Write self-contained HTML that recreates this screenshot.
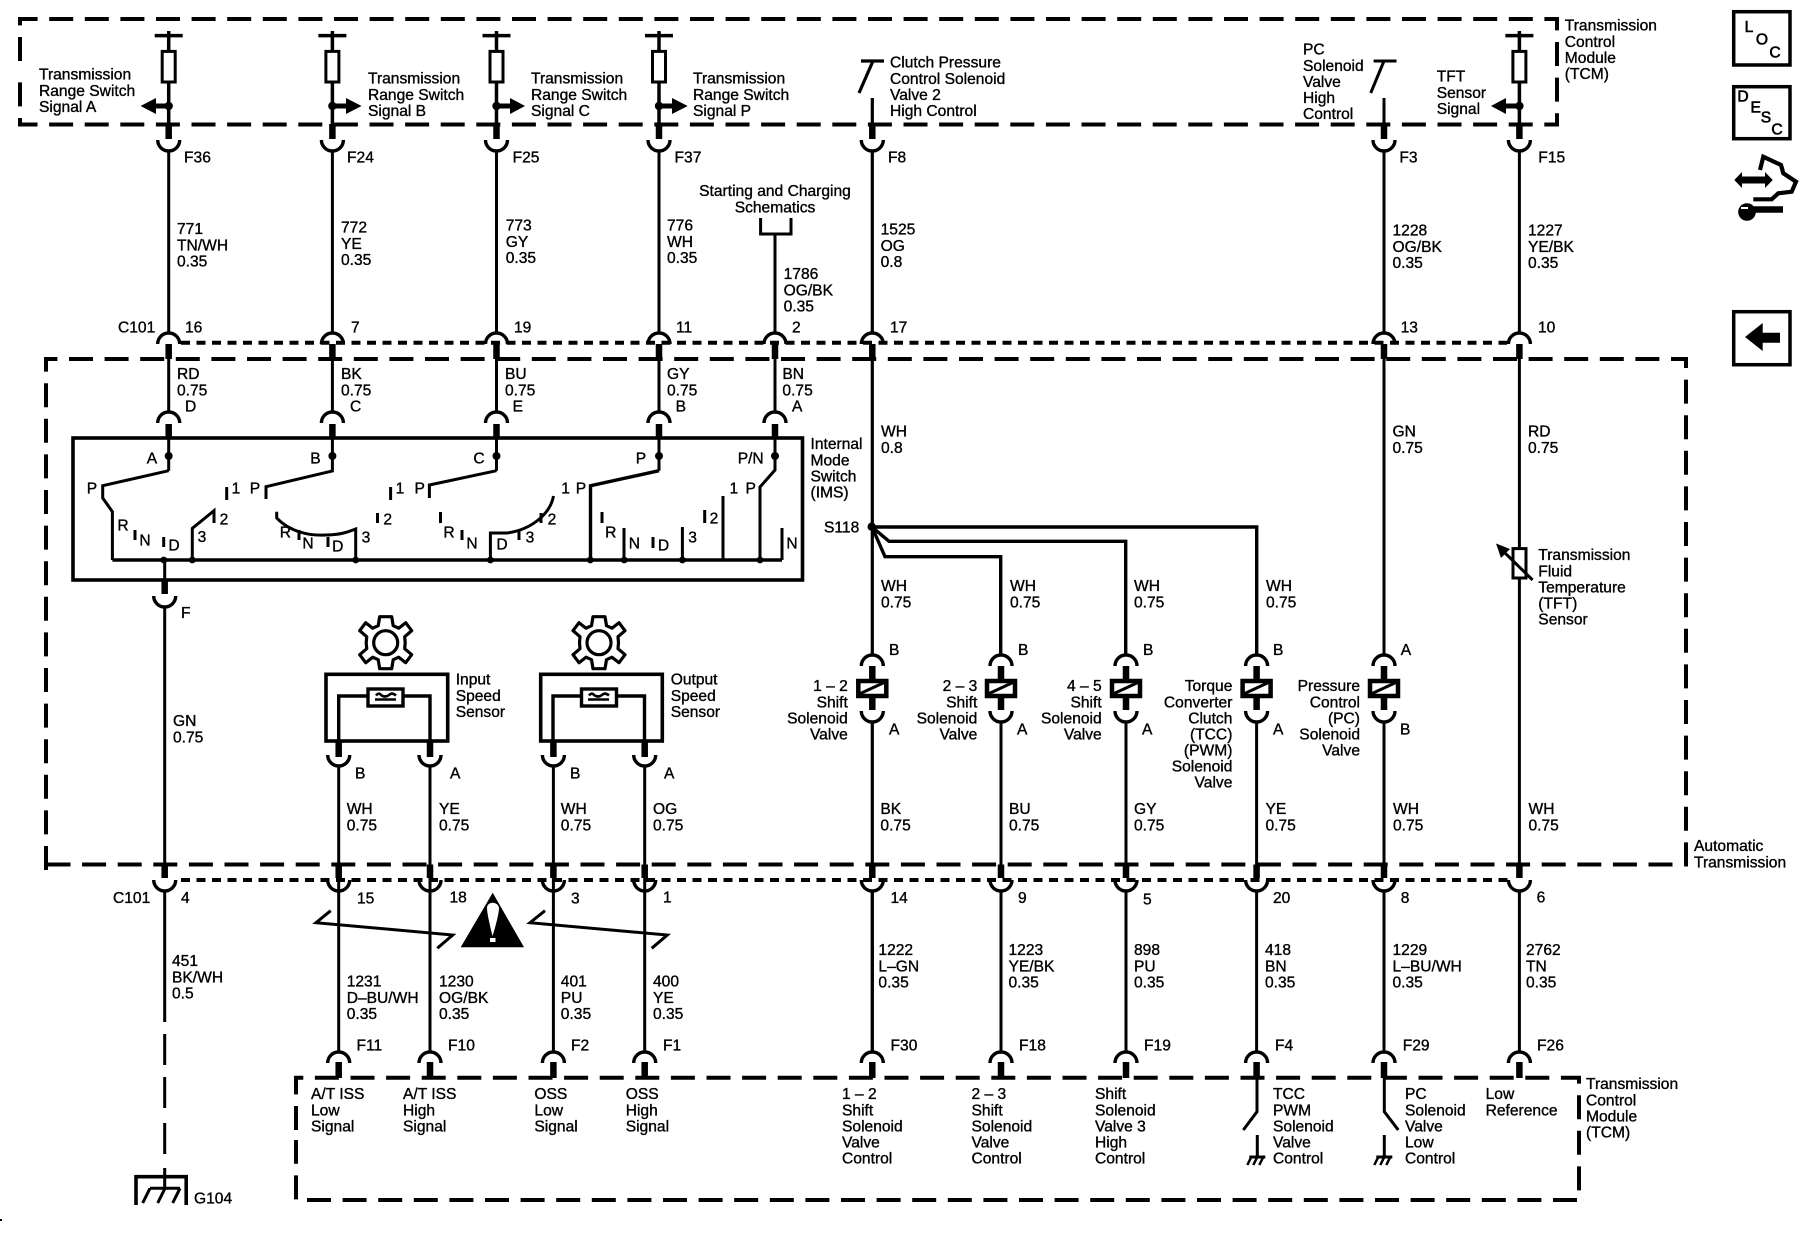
<!DOCTYPE html>
<html><head><meta charset="utf-8"><title>Transmission wiring diagram</title>
<style>
html,body{margin:0;padding:0;background:#fff}
svg{display:block}
text{font-family:"Liberation Sans",sans-serif;font-size:15.6px;fill:#000;stroke:#000;stroke-width:.35;dominant-baseline:central;transform:translateY(.8px)}
.r{text-anchor:end}
.m{text-anchor:middle}
.i{stroke-width:.6}
.w{fill:none;stroke:#000;stroke-width:3}
.a{fill:none;stroke:#000;stroke-width:3.4}
.t{fill:none;stroke:#000;stroke-width:6.5}
.d{fill:none;stroke:#000;stroke-width:4;stroke-dasharray:24 11.6}
.o{fill:none;stroke:#000;stroke-width:4;stroke-dasharray:9 6.5}
.b{fill:none;stroke:#000;stroke-width:4}
</style></head><body>
<svg width="1800" height="1248" viewBox="0 0 1800 1248" xmlns="http://www.w3.org/2000/svg">
<defs>
<g id="U"><path class="a" d="M-11 0A11 11 0 0 0 11 0"/></g>
<g id="N"><path class="a" d="M-11 0A11 11 0 0 1 11 0"/></g>
<g id="colTop">
<path class="w" d="M-14 35.6H14M0 31V51M0 82V124" style="stroke-width:3.5"/>
<rect x="-6.5" y="51.4" width="13" height="30.6" fill="#fff" stroke="#000" stroke-width="3"/>
<circle cx="0" cy="106" r="4.2"/>
</g>
<g id="col">
<use href="#colTop"/>
<path class="t" d="M0 124V139M0 344V359M0 424V438"/>
<use href="#U" y="140"/>
<path class="w" d="M0 151V333M0 359V412M0 438V470.7"/>
<use href="#N" y="344"/><use href="#N" y="423"/>
<circle cx="0" cy="456" r="4"/>
</g>
<g id="sol">
<path class="t" d="M0 666V710"/>
<rect x="-14" y="681" width="28" height="15" fill="#fff" stroke="#000" stroke-width="4.5"/>
<path class="w" d="M-13 694L13 682"/>
<use href="#N" y="666"/><use href="#U" y="711"/>
</g>
<g id="bot">
<path class="t" d="M0 864.5V878M0 1062V1078"/>
<use href="#U" y="880"/><use href="#N" y="1063"/>
<path class="w" d="M0 891V1052"/>
</g>
<g id="sgnd">
<path class="w" d="M0 1135V1157M-8 1157H8"/>
<path class="w" d="M-6 1157L-10 1165M0 1157L-4 1165M6 1157L2 1165" style="stroke-width:2.5"/>
</g>
<path id="gear" d="M-6 -26L6 -26L7.5 -17L13 -14.5L20 -20L26 -12L19 -6L19.5 0L19 6L26 12L20 20L13 14.5L7.5 17L6 26L-6 26L-7.5 17L-13 14.5L-20 20L-26 12L-19 6L-19.5 0L-19 -6L-26 -12L-20 -20L-13 -14.5L-7.5 -17Z" fill="#fff" stroke="#000" stroke-width="3.2" stroke-linejoin="round"/>
</defs>
<rect width="1800" height="1248" fill="#fff"/>

<!-- dashed boxes -->
<path class="d" d="M20 61V19H1557V124.5H20V78"/>
<path class="d" d="M46 870V359H1686V864.5H46"/>
<path class="d" d="M296 1130V1077.7H1579V1200H296V1140"/>
<path class="o" d="M181 342.7H1507"/>
<path class="o" d="M181 880H1508"/>

<!-- top columns -->
<use href="#col" x="168.7"/><use href="#col" x="332.4"/><use href="#col" x="496.5"/><use href="#col" x="659"/>
<polygon points="140.6,106 156,98 156,103.5 168,103.5 168,108.5 156,108.5 156,114"/>
<polygon points="361.6,106 346,98 346,103.5 333,103.5 333,108.5 346,108.5 346,114"/>
<polygon points="525,106 510,98 510,103.5 497,103.5 497,108.5 510,108.5 510,114"/>
<polygon points="687.7,106 672,98 672,103.5 660,103.5 660,108.5 672,108.5 672,114"/>

<!-- col 775 -->
<path class="w" d="M760.6 218V234H791V218M775 234V333M775 359V412M775 438V470L760 487V560"/>
<path class="t" d="M775 344V359M775 424V438"/>
<use href="#N" x="775" y="344"/><use href="#N" x="775" y="423"/>
<circle cx="775" cy="456" r="4"/>

<!-- col 872 -->
<path class="w" d="M861 61H884M873 61L859 93M872.3 98V124M872.3 151V333M872.3 359V655M872.3 722V864.5M872.3 891V1052" style="stroke-width:3.2"/>
<path class="t" d="M872.3 124V139M872.3 344V359"/>
<use href="#U" x="872.3" y="140"/><use href="#N" x="872.3" y="344"/>
<circle cx="871.7" cy="526.7" r="4.2"/>
<path class="b" d="M872 527H1256.7V655M872 527L889 541.3H1125.7V655M872 527L885 556.7H1000.7V655" style="stroke-width:3.4"/>

<!-- col 1384 -->
<path class="w" d="M1373.6 61H1396.5M1384 61L1370.7 93M1384 98V124M1384 151V333M1384 359V655M1384 722V864.5"/>
<path class="t" d="M1384 124V139M1384 344V359"/>
<use href="#U" x="1384" y="140"/><use href="#N" x="1384" y="344"/>

<!-- col 1519 -->
<use href="#colTop" x="1519.4"/>
<polygon points="1491,106 1506,98 1506,103.5 1519,103.5 1519,108.5 1506,108.5 1506,114"/>
<path class="t" d="M1519.4 124V139M1519.4 344V359"/>
<use href="#U" x="1519.4" y="140"/><use href="#N" x="1519.4" y="344"/>
<path class="w" d="M1519.4 151V333M1519.4 359V864.5"/>
<rect x="1513" y="548.6" width="13" height="29.4" fill="#fff" stroke="#000" stroke-width="3"/>
<path class="w" d="M1532.6 580L1502 550"/>
<polygon points="1496,543.5 1510,549 1501,558"/>

<!-- internal mode switch -->
<rect x="73" y="438" width="729.5" height="142" fill="none" stroke="#000" stroke-width="3.6"/>
<path class="b" d="M112.4 560H782" style="stroke-width:3.6"/>
<path class="w" d="M168.7 470.7L102.7 485.7V498L112.4 511.7V560"/>
<path class="w" d="M192.3 560V528.3L214 510.7V523M332.4 470.7V471L266 486.7V499M276.7 511.7V518C290 532 310 536 325.6 535C340 535 348 532 355.7 529V560"/>
<path class="w" d="M496.5 470.7L429.4 485V498M490.4 560V533H507C530 530 550 515 553.5 496"/>
<path class="b" d="M659 470.7L590.5 485.7V560" style="stroke-width:3.4"/>
<path class="w" d="M624 528V560M682.4 527V560M723 496V560M782 528V560"/>
<path class="w" d="M135 530V540M163.7 537V547M226.7 487V500M299 530V540M328 537V547M377.5 513V523M390.6 487V500M440.5 512V523M462 530V540M519 530V540M541 513V523M602 512V523M653 537V548M704.7 510V523"/>
<g>
<circle cx="163.7" cy="560" r="3.4"/><circle cx="192.3" cy="560" r="3.4"/><circle cx="355.7" cy="560" r="3.4"/><circle cx="490.4" cy="560" r="3.4"/><circle cx="590.3" cy="560" r="3.4"/><circle cx="624.2" cy="560" r="3.4"/><circle cx="682.4" cy="560" r="3.4"/><circle cx="760" cy="560" r="3.4"/>
</g>
<path class="w" d="M164.7 560V580M164.7 607V864.5"/>
<path class="t" d="M164.7 580V594"/>
<use href="#U" x="164.7" y="596"/>

<!-- speed sensors -->
<use href="#gear" x="385.7" y="642.7"/><circle cx="385.7" cy="642.7" r="12" fill="none" stroke="#000" stroke-width="3.2"/>
<use href="#gear" x="599" y="642.7"/><circle cx="599" cy="642.7" r="12" fill="none" stroke="#000" stroke-width="3.2"/>
<rect x="326" y="674.3" width="121.7" height="66.7" fill="none" stroke="#000" stroke-width="3.6"/>
<rect x="540.7" y="674.3" width="121.6" height="66.7" fill="none" stroke="#000" stroke-width="3.6"/>
<path class="b" d="M338.7 741V696H430V741M553 741V696H644.5V741" style="stroke-width:3.4"/>
<rect x="368" y="689" width="35" height="17" fill="#fff" stroke="#000" stroke-width="3.4"/>
<rect x="581.5" y="689" width="35" height="17" fill="#fff" stroke="#000" stroke-width="3.4"/>
<path class="w" d="M376 695.5Q379 692 381 695Q385 698 389 695Q392 692 396 695.5M375 699.5H396M589 695.5Q592 692 594 695Q598 698 602 695Q605 692 609 695.5M588 699.5H609" style="stroke-width:2.6"/>
<path class="t" d="M338.7 741V757M430 741V757M553.4 741V757M644.7 741V757"/>
<use href="#U" x="338.7" y="755"/><use href="#U" x="430" y="755"/><use href="#U" x="553.4" y="755"/><use href="#U" x="644.7" y="755"/>
<path class="w" d="M338.7 766V1052M430 766V1052M553.4 766V1052M644.7 766V1052"/>
<path class="t" d="M338.7 864.5V878M430 864.5V878M553.4 864.5V878M644.7 864.5V878M164.7 864.5V878M338.7 1062V1078M430 1062V1078M553.4 1062V1078M644.7 1062V1078"/>
<g fill="#fff">
<use href="#U" x="164.7" y="880"/><use href="#U" x="338.7" y="880"/><use href="#U" x="430" y="880"/><use href="#U" x="553.4" y="880"/><use href="#U" x="644.7" y="880"/>
<use href="#N" x="338.7" y="1063"/><use href="#N" x="430" y="1063"/><use href="#N" x="553.4" y="1063"/><use href="#N" x="644.7" y="1063"/>
</g>
<!-- twisted pair and warning -->
<path class="w" d="M330.7 910.7L316 922.7L452.7 935L437.3 948.3M545 910.7L530 922.7L667.3 935L651.7 948.3"/>
<polygon points="492.7,892.7 524,947.3 460.7,947.3"/>
<path d="M487 908C487 901 498 901 499 908C499 914 494.5 930 492.5 936C491 930 487 914 487 908Z" fill="#fff"/>
<rect x="490" y="938" width="5.5" height="4" fill="#fff"/>

<!-- ground lower -->
<path class="w" d="M164.7 891V1022M164.7 1034V1065M164.7 1077V1108M164.7 1123V1154M164.7 1168V1188"/>
<path class="b" d="M136 1205V1176.7H186.2V1205" style="stroke-width:3.6"/>
<path class="w" d="M150 1188.3H180M150 1188.3L142.7 1203M165 1188.3L157.7 1203M180 1188.3L172.7 1203"/>

<!-- solenoids -->
<use href="#sol" x="872.3"/><use href="#sol" x="1001"/><use href="#sol" x="1126"/><use href="#sol" x="1256.6"/><use href="#sol" x="1384"/>
<use href="#bot" x="872.3"/><use href="#bot" x="1001"/><use href="#bot" x="1126"/><use href="#bot" x="1519.4"/>
<path class="w" d="M1001 722V864.5M1126 722V864.5M1256.6 722V864.5"/>
<use href="#bot" x="1256.6"/><use href="#bot" x="1384"/>
<path class="w" d="M1257 1078V1111.7L1243.3 1130M1384.3 1078V1111.7L1398.3 1130"/>
<use href="#sgnd" x="1257.3"/><use href="#sgnd" x="1384.3"/>

<!-- side icons -->
<rect x="1733.7" y="11.7" width="56.3" height="53.3" fill="none" stroke="#000" stroke-width="3.5"/>
<rect x="1733.7" y="86.7" width="56.3" height="52" fill="none" stroke="#000" stroke-width="3.5"/>
<rect x="1733.7" y="311.7" width="56.3" height="53" fill="none" stroke="#000" stroke-width="3.5"/>
<polygon points="1745,337 1762.7,323 1762.7,332.7 1780,332.7 1780,342.7 1762.7,342.7 1762.7,351"/>
<text x="1749" y="26.7" class="m i">L</text><text x="1762" y="39" class="m i">O</text><text x="1775" y="52" class="m i">C</text>
<text x="1743" y="96" class="m i">D</text><text x="1755.7" y="107" class="m i">E</text><text x="1766" y="117" class="m i">S</text><text x="1777" y="129" class="m i">C</text>
<polygon points="1734.3,180 1742,172 1742,176.5 1765,176.5 1765,172 1772.7,180 1765,188 1765,183.5 1742,183.5 1742,188"/>
<path class="w" d="M1760 170L1763.3 156.7L1781 165L1783.3 173.3L1796 181.7L1791.7 191.7L1778.3 193.3L1771.7 199.3L1753.3 199.3" style="stroke-width:4.2"/>
<circle cx="1747" cy="212" r="8.8"/><path class="t" d="M1746 209.5H1783"/>
<rect x="1741" y="207" width="7" height="2" fill="#fff"/>

<rect x="0" y="1219" width="2" height="2"/>

<!-- labels -->
<text x="39" y="74">Transmission<tspan x="39" dy="16">Range Switch</tspan><tspan x="39" dy="16">Signal A</tspan></text>
<text x="368" y="78">Transmission<tspan x="368" dy="16">Range Switch</tspan><tspan x="368" dy="16">Signal B</tspan></text>
<text x="531" y="78">Transmission<tspan x="531" dy="16">Range Switch</tspan><tspan x="531" dy="16">Signal C</tspan></text>
<text x="693" y="78">Transmission<tspan x="693" dy="16">Range Switch</tspan><tspan x="693" dy="16">Signal P</tspan></text>
<text x="890" y="62">Clutch Pressure<tspan x="890" dy="16">Control Solenoid</tspan><tspan x="890" dy="16">Valve 2</tspan><tspan x="890" dy="16">High Control</tspan></text>
<text x="1303" y="49.4">PC<tspan x="1303" dy="16">Solenoid</tspan><tspan x="1303" dy="16">Valve</tspan><tspan x="1303" dy="16">High</tspan><tspan x="1303" dy="16">Control</tspan></text>
<text x="1436.7" y="76">TFT<tspan x="1436.7" dy="16">Sensor</tspan><tspan x="1436.7" dy="16">Signal</tspan></text>
<text x="1564.8" y="25">Transmission<tspan x="1564.8" dy="16">Control</tspan><tspan x="1564.8" dy="16">Module</tspan><tspan x="1564.8" dy="16">(TCM)</tspan></text>

<text x="184" y="157">F36</text><text x="347" y="157">F24</text><text x="512.6" y="157">F25</text><text x="674.5" y="157">F37</text><text x="888" y="157">F8</text><text x="1399.4" y="157">F3</text><text x="1538.3" y="157">F15</text>
<text x="775" y="190.5" class="m">Starting and Charging<tspan x="775" dy="16">Schematics</tspan></text>

<text x="177" y="228.5">771<tspan x="177" dy="16">TN/WH</tspan><tspan x="177" dy="16">0.35</tspan></text>
<text x="341" y="227">772<tspan x="341" dy="16">YE</tspan><tspan x="341" dy="16">0.35</tspan></text>
<text x="505.7" y="225">773<tspan x="505.7" dy="16">GY</tspan><tspan x="505.7" dy="16">0.35</tspan></text>
<text x="667" y="225">776<tspan x="667" dy="16">WH</tspan><tspan x="667" dy="16">0.35</tspan></text>
<text x="783.6" y="273.5">1786<tspan x="783.6" dy="16">OG/BK</tspan><tspan x="783.6" dy="16">0.35</tspan></text>
<text x="880.6" y="229">1525<tspan x="880.6" dy="16">OG</tspan><tspan x="880.6" dy="16">0.8</tspan></text>
<text x="1392.5" y="230">1228<tspan x="1392.5" dy="16">OG/BK</tspan><tspan x="1392.5" dy="16">0.35</tspan></text>
<text x="1528" y="230">1227<tspan x="1528" dy="16">YE/BK</tspan><tspan x="1528" dy="16">0.35</tspan></text>

<text x="118" y="327">C101</text><text x="185" y="327">16</text><text x="351" y="327">7</text><text x="514" y="327">19</text><text x="676" y="327">11</text><text x="792" y="327">2</text><text x="890" y="327">17</text><text x="1400.6" y="327">13</text><text x="1538" y="327">10</text>

<text x="177" y="373.6">RD<tspan x="177" dy="16">0.75</tspan></text>
<text x="341" y="373.6">BK<tspan x="341" dy="16">0.75</tspan></text>
<text x="505" y="373.6">BU<tspan x="505" dy="16">0.75</tspan></text>
<text x="667" y="373.6">GY<tspan x="667" dy="16">0.75</tspan></text>
<text x="782.4" y="373.6">BN<tspan x="782.4" dy="16">0.75</tspan></text>
<text x="185" y="406">D</text><text x="350" y="406">C</text><text x="512.6" y="406">E</text><text x="675.6" y="406">B</text><text x="792" y="406">A</text>
<text x="881" y="431">WH<tspan x="881" dy="16">0.8</tspan></text>
<text x="1392.5" y="431">GN<tspan x="1392.5" dy="16">0.75</tspan></text>
<text x="1528" y="431">RD<tspan x="1528" dy="16">0.75</tspan></text>
<text x="810.5" y="443.5">Internal<tspan x="810.5" dy="16">Mode</tspan><tspan x="810.5" dy="16">Switch</tspan><tspan x="810.5" dy="16">(IMS)</tspan></text>
<text x="824" y="527">S118</text>

<!-- switch letters -->
<text x="152" y="458" class="m">A</text><text x="315.5" y="458" class="m">B</text><text x="479" y="458" class="m">C</text><text x="641" y="458" class="m">P</text><text x="750.7" y="458" class="m">P/N</text>
<text x="92" y="488" class="m">P</text><text x="123" y="525" class="m">R</text><text x="145" y="540" class="m">N</text><text x="174" y="545" class="m">D</text><text x="202" y="536.7" class="m">3</text><text x="224" y="519" class="m">2</text>
<text x="236" y="488" class="m">1</text><text x="255" y="488" class="m">P</text><text x="285.4" y="532" class="m">R</text><text x="308" y="543" class="m">N</text><text x="337.8" y="546" class="m">D</text><text x="366" y="537" class="m">3</text><text x="387.7" y="519" class="m">2</text>
<text x="400" y="488" class="m">1</text><text x="419.7" y="488" class="m">P</text><text x="449" y="532" class="m">R</text><text x="472" y="543" class="m">N</text><text x="502" y="544" class="m">D</text><text x="530" y="537" class="m">3</text><text x="552" y="519" class="m">2</text>
<text x="565.6" y="488" class="m">1</text><text x="581" y="488" class="m">P</text><text x="610.7" y="532" class="m">R</text><text x="634.4" y="543" class="m">N</text><text x="663.5" y="545" class="m">D</text><text x="692.6" y="537" class="m">3</text><text x="714" y="518" class="m">2</text><text x="733.8" y="488" class="m">1</text><text x="750.7" y="488" class="m">P</text><text x="792" y="543" class="m">N</text>

<text x="181" y="612.6">F</text>
<text x="1010" y="585.8">WH<tspan x="1010" dy="16">0.75</tspan></text>
<text x="881" y="585.8">WH<tspan x="881" dy="16">0.75</tspan></text>
<text x="1134" y="585.8">WH<tspan x="1134" dy="16">0.75</tspan></text>
<text x="1266" y="585.8">WH<tspan x="1266" dy="16">0.75</tspan></text>
<text x="1538.3" y="554.6">Transmission<tspan x="1538.3" dy="16">Fluid</tspan><tspan x="1538.3" dy="16">Temperature</tspan><tspan x="1538.3" dy="16">(TFT)</tspan><tspan x="1538.3" dy="16">Sensor</tspan></text>

<text x="455.7" y="679.3">Input<tspan x="455.7" dy="16">Speed</tspan><tspan x="455.7" dy="16">Sensor</tspan></text>
<text x="670.7" y="679.3">Output<tspan x="670.7" dy="16">Speed</tspan><tspan x="670.7" dy="16">Sensor</tspan></text>
<text x="355" y="773">B</text><text x="450" y="773">A</text><text x="570" y="773">B</text><text x="664" y="773">A</text>

<text x="889" y="649.6">B</text><text x="1018" y="649.6">B</text><text x="1143" y="649.6">B</text><text x="1273" y="649.6">B</text><text x="1400.7" y="649.6">A</text>
<text x="889" y="729">A</text><text x="1017" y="729">A</text><text x="1142" y="729">A</text><text x="1273" y="729">A</text><text x="1400" y="729">B</text>
<text x="847.8" y="685.5" class="r">1 – 2<tspan x="847.8" dy="16">Shift</tspan><tspan x="847.8" dy="16">Solenoid</tspan><tspan x="847.8" dy="16">Valve</tspan></text>
<text x="977.3" y="685.5" class="r">2 – 3<tspan x="977.3" dy="16">Shift</tspan><tspan x="977.3" dy="16">Solenoid</tspan><tspan x="977.3" dy="16">Valve</tspan></text>
<text x="1101.7" y="685.5" class="r">4 – 5<tspan x="1101.7" dy="16">Shift</tspan><tspan x="1101.7" dy="16">Solenoid</tspan><tspan x="1101.7" dy="16">Valve</tspan></text>
<text x="1232.4" y="685.5" class="r">Torque<tspan x="1232.4" dy="16">Converter</tspan><tspan x="1232.4" dy="16">Clutch</tspan><tspan x="1232.4" dy="16">(TCC)</tspan><tspan x="1232.4" dy="16">(PWM)</tspan><tspan x="1232.4" dy="16">Solenoid</tspan><tspan x="1232.4" dy="16">Valve</tspan></text>
<text x="1360" y="685.5" class="r">Pressure<tspan x="1360" dy="16">Control</tspan><tspan x="1360" dy="16">(PC)</tspan><tspan x="1360" dy="16">Solenoid</tspan><tspan x="1360" dy="16">Valve</tspan></text>

<text x="173" y="720.6">GN<tspan x="173" dy="16">0.75</tspan></text>
<text x="346.7" y="808.7">WH<tspan x="346.7" dy="16">0.75</tspan></text>
<text x="439" y="808.7">YE<tspan x="439" dy="16">0.75</tspan></text>
<text x="560.8" y="808.7">WH<tspan x="560.8" dy="16">0.75</tspan></text>
<text x="653" y="808.7">OG<tspan x="653" dy="16">0.75</tspan></text>
<text x="880.4" y="808.7">BK<tspan x="880.4" dy="16">0.75</tspan></text>
<text x="1009" y="808.7">BU<tspan x="1009" dy="16">0.75</tspan></text>
<text x="1134" y="808.7">GY<tspan x="1134" dy="16">0.75</tspan></text>
<text x="1265.5" y="808.7">YE<tspan x="1265.5" dy="16">0.75</tspan></text>
<text x="1393" y="808.7">WH<tspan x="1393" dy="16">0.75</tspan></text>
<text x="1528.5" y="808.7">WH<tspan x="1528.5" dy="16">0.75</tspan></text>
<text x="1694" y="845.5">Automatic<tspan x="1694" dy="16">Transmission</tspan></text>

<text x="113" y="897.5">C101</text><text x="181" y="897.5">4</text><text x="357" y="898">15</text><text x="449.5" y="897">18</text><text x="571" y="898">3</text><text x="663" y="897">1</text><text x="890.5" y="897.5">14</text><text x="1018" y="897.5">9</text><text x="1143" y="899">5</text><text x="1273" y="897.5">20</text><text x="1400.7" y="897.5">8</text><text x="1536.6" y="897">6</text>

<text x="172" y="960.7">451<tspan x="172" dy="16">BK/WH</tspan><tspan x="172" dy="16">0.5</tspan></text>
<text x="346.7" y="981">1231<tspan x="346.7" dy="16">D–BU/WH</tspan><tspan x="346.7" dy="16">0.35</tspan></text>
<text x="439" y="981">1230<tspan x="439" dy="16">OG/BK</tspan><tspan x="439" dy="16">0.35</tspan></text>
<text x="560.8" y="981">401<tspan x="560.8" dy="16">PU</tspan><tspan x="560.8" dy="16">0.35</tspan></text>
<text x="653" y="981">400<tspan x="653" dy="16">YE</tspan><tspan x="653" dy="16">0.35</tspan></text>
<text x="878.4" y="949.6">1222<tspan x="878.4" dy="16">L–GN</tspan><tspan x="878.4" dy="16">0.35</tspan></text>
<text x="1008.5" y="949.6">1223<tspan x="1008.5" dy="16">YE/BK</tspan><tspan x="1008.5" dy="16">0.35</tspan></text>
<text x="1134" y="949.6">898<tspan x="1134" dy="16">PU</tspan><tspan x="1134" dy="16">0.35</tspan></text>
<text x="1265" y="949.6">418<tspan x="1265" dy="16">BN</tspan><tspan x="1265" dy="16">0.35</tspan></text>
<text x="1392.5" y="949.6">1229<tspan x="1392.5" dy="16">L–BU/WH</tspan><tspan x="1392.5" dy="16">0.35</tspan></text>
<text x="1526" y="949.6">2762<tspan x="1526" dy="16">TN</tspan><tspan x="1526" dy="16">0.35</tspan></text>

<text x="356.5" y="1045">F11</text><text x="448" y="1045">F10</text><text x="571" y="1045">F2</text><text x="663" y="1045">F1</text><text x="890.5" y="1045">F30</text><text x="1019" y="1045">F18</text><text x="1144" y="1045">F19</text><text x="1275" y="1045">F4</text><text x="1402.7" y="1045">F29</text><text x="1537" y="1045">F26</text>

<text x="311" y="1093.8">A/T ISS<tspan x="311" dy="16">Low</tspan><tspan x="311" dy="16">Signal</tspan></text>
<text x="403" y="1093.8">A/T ISS<tspan x="403" dy="16">High</tspan><tspan x="403" dy="16">Signal</tspan></text>
<text x="534.4" y="1093.8">OSS<tspan x="534.4" dy="16">Low</tspan><tspan x="534.4" dy="16">Signal</tspan></text>
<text x="625.7" y="1093.8">OSS<tspan x="625.7" dy="16">High</tspan><tspan x="625.7" dy="16">Signal</tspan></text>
<text x="842" y="1093.8">1 – 2<tspan x="842" dy="16">Shift</tspan><tspan x="842" dy="16">Solenoid</tspan><tspan x="842" dy="16">Valve</tspan><tspan x="842" dy="16">Control</tspan></text>
<text x="971.5" y="1093.8">2 – 3<tspan x="971.5" dy="16">Shift</tspan><tspan x="971.5" dy="16">Solenoid</tspan><tspan x="971.5" dy="16">Valve</tspan><tspan x="971.5" dy="16">Control</tspan></text>
<text x="1095" y="1093.8">Shift<tspan x="1095" dy="16">Solenoid</tspan><tspan x="1095" dy="16">Valve 3</tspan><tspan x="1095" dy="16">High</tspan><tspan x="1095" dy="16">Control</tspan></text>
<text x="1273" y="1093.8">TCC<tspan x="1273" dy="16">PWM</tspan><tspan x="1273" dy="16">Solenoid</tspan><tspan x="1273" dy="16">Valve</tspan><tspan x="1273" dy="16">Control</tspan></text>
<text x="1405" y="1093.8">PC<tspan x="1405" dy="16">Solenoid</tspan><tspan x="1405" dy="16">Valve</tspan><tspan x="1405" dy="16">Low</tspan><tspan x="1405" dy="16">Control</tspan></text>
<text x="1485.6" y="1093.8">Low<tspan x="1485.6" dy="16">Reference</tspan></text>
<text x="1586" y="1083.5">Transmission<tspan x="1586" dy="16">Control</tspan><tspan x="1586" dy="16">Module</tspan><tspan x="1586" dy="16">(TCM)</tspan></text>
<text x="194" y="1198">G104</text>
</svg>
</body></html>
